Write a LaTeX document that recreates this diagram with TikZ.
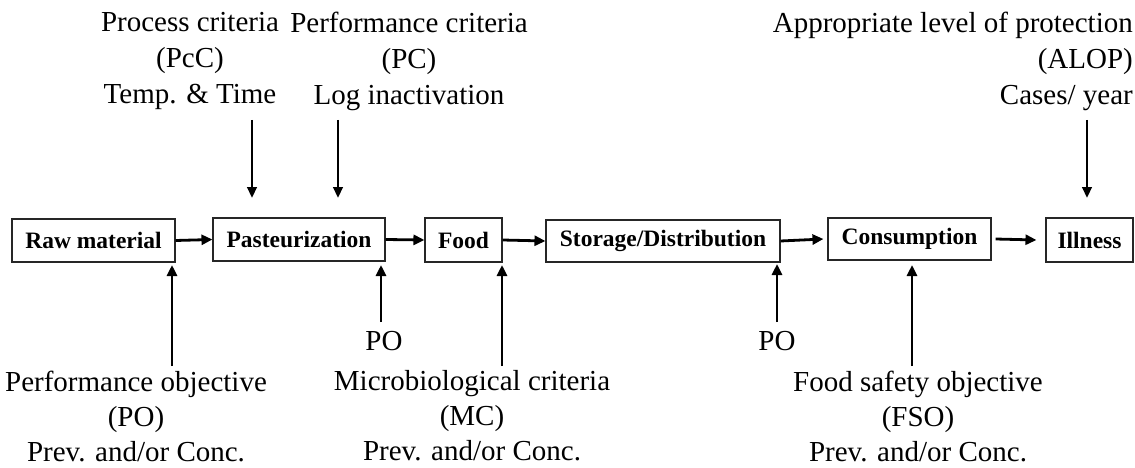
\documentclass[tikz,border=0pt]{standalone}
\usepackage{fontspec}
\setmainfont{Liberation Serif}
\usetikzlibrary{arrows.meta}
\begin{document}
\begin{tikzpicture}[x=1pt,y=-1pt,
  stagebox/.style={draw=black!85, line width=1.1pt, inner sep=0pt,
    font=\fontsize{23.5}{27}\selectfont\bfseries},
  lbl/.style={inner sep=0pt, align=center, font=\fontsize{29}{36}\selectfont},
  lowlbl/.style={inner sep=0pt, align=center, font=\fontsize{29}{35}\selectfont},
  flow/.style={line width=2.8pt, -{Triangle[length=11pt,width=10pt]}},
  feed/.style={line width=2.5pt, -{Triangle[length=11pt,width=9.5pt]}}]
\useasboundingbox (0,0) rectangle (1135,468);
% stage boxes
\node[stagebox, minimum width=163pt, minimum height=43pt] (raw) at (93.5,240.5) {Raw material};
\node[stagebox, minimum width=172pt, minimum height=43pt] (past) at (299,239.5) {Pasteurization};
\node[stagebox, minimum width=77pt, minimum height=44pt] (food) at (463.5,240) {Food};
\node[stagebox, minimum width=234pt, minimum height=42pt] (stor) at (663,241) {Storage/Distribution};
\node[stagebox, minimum width=163pt, minimum height=42pt] (cons) at (909.5,239) {Consumption};
\node[stagebox, minimum width=87pt, minimum height=44pt] (ill) at (1089.5,240) {Illness};
% flow arrows
\draw[flow] (raw.east) -- (past.west);
\draw[flow] (past.east) -- (food.west);
\draw[flow] (food.east) -- (stor.west);
\draw[flow] (stor.east) -- ([xshift=-4pt]cons.west);
\draw[flow] ([xshift=4pt]cons.east) -- ([xshift=-9pt]ill.west);
% top labels
\node[lbl] (pcc) at (190,61) {Process criteria\\(PcC)\\Temp. \& Time};
\node[lbl] (pc) at (409,61) {Performance criteria\\(PC)\\Log inactivation};
\node[lbl, align=right, anchor=east] (alop) at (1133,61) {Appropriate level of protection\\(ALOP)\\Cases/ year};
% bottom labels
\node[lowlbl] (po) at (136,416) {Performance objective\\(PO)\\Prev. and/or Conc.};
\node[lowlbl] (mc) at (472,416) {Microbiological criteria\\(MC)\\Prev. and/or Conc.};
\node[lowlbl] (fso) at (918,416) {Food safety objective\\(FSO)\\Prev. and/or Conc.};
\node[lbl] (po1) at (384,341) {PO};
\node[lbl] (po2) at (777,341) {PO};
% feed coordinates
\coordinate (t1) at (252,120); \coordinate (t1e) at (252,198);
\coordinate (t2) at (338,120); \coordinate (t2e) at (338,198);
\coordinate (t3) at (1087,120); \coordinate (t3e) at (1087,198);
\coordinate (b1) at (172,366); \coordinate (b1e) at (172,265);
\coordinate (b2) at (381,322); \coordinate (b2e) at (381,265);
\coordinate (b3) at (502,366); \coordinate (b3e) at (502,265);
\coordinate (b4) at (777,322); \coordinate (b4e) at (777,264);
\coordinate (b5) at (912,366); \coordinate (b5e) at (912,265);
\draw[feed] (t1) -- (t1e);
\draw[feed] (t2) -- (t2e);
\draw[feed] (t3) -- (t3e);
\draw[flow] (b1) -- (b1e);
\draw[flow] (b2) -- (b2e);
\draw[flow] (b3) -- (b3e);
\draw[flow] (b4) -- (b4e);
\draw[flow] (b5) -- (b5e);
\end{tikzpicture}
\end{document}
